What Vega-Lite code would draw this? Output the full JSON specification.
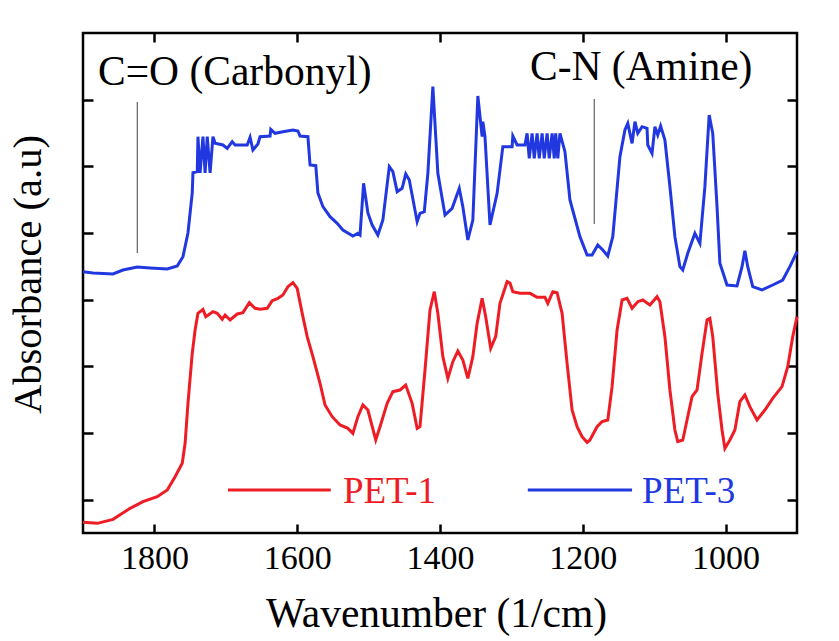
{
  "$schema": "https://vega.github.io/schema/vega-lite/v6.json",
  "width": 714,
  "height": 500,
  "autosize": "none",
  "padding": {"left": 83, "top": 33, "right": 42, "bottom": 108},
  "background": "white",
  "config": {
    "view": {"stroke": "black", "strokeWidth": 2.5},
    "font": "'Liberation Serif', 'Times New Roman', serif",
    "axis": {
      "domain": false,
      "grid": false,
      "tickColor": "black",
      "tickWidth": 2.5,
      "labelFont": "'Liberation Serif', 'Times New Roman', serif",
      "titleFont": "'Liberation Serif', 'Times New Roman', serif",
      "labelColor": "black",
      "titleColor": "black",
      "titleFontWeight": "normal"
    }
  },
  "datasets": {
    "spectra": [
      {"s":"PET-3","wn":1900,"a":3.92},{"s":"PET-3","wn":1886,"a":3.90},{"s":"PET-3","wn":1858,"a":3.885},{"s":"PET-3","wn":1844,"a":3.945},
      {"s":"PET-3","wn":1824,"a":3.99},{"s":"PET-3","wn":1806,"a":3.975},{"s":"PET-3","wn":1782,"a":3.96},{"s":"PET-3","wn":1768,"a":4.005},
      {"s":"PET-3","wn":1760,"a":4.145},{"s":"PET-3","wn":1753,"a":4.50},{"s":"PET-3","wn":1747,"a":5.10},{"s":"PET-3","wn":1746,"a":5.405},
      {"s":"PET-3","wn":1740,"a":5.42},{"s":"PET-3","wn":1739,"a":5.945},{"s":"PET-3","wn":1736,"a":5.40},{"s":"PET-3","wn":1732,"a":5.945},
      {"s":"PET-3","wn":1729,"a":5.40},{"s":"PET-3","wn":1726,"a":5.945},{"s":"PET-3","wn":1722,"a":5.40},{"s":"PET-3","wn":1718,"a":5.945},
      {"s":"PET-3","wn":1715,"a":5.845},{"s":"PET-3","wn":1704,"a":5.82},{"s":"PET-3","wn":1698,"a":5.77},{"s":"PET-3","wn":1691,"a":5.87},
      {"s":"PET-3","wn":1687,"a":5.82},{"s":"PET-3","wn":1670,"a":5.82},{"s":"PET-3","wn":1666,"a":5.935},{"s":"PET-3","wn":1662,"a":5.745},
      {"s":"PET-3","wn":1655,"a":5.835},{"s":"PET-3","wn":1652,"a":5.945},{"s":"PET-3","wn":1638,"a":5.955},{"s":"PET-3","wn":1637,"a":6.055},
      {"s":"PET-3","wn":1631,"a":5.995},{"s":"PET-3","wn":1620,"a":6.02},{"s":"PET-3","wn":1606,"a":6.045},{"s":"PET-3","wn":1599,"a":6.03},
      {"s":"PET-3","wn":1596,"a":5.955},{"s":"PET-3","wn":1585,"a":5.945},{"s":"PET-3","wn":1582,"a":5.52},{"s":"PET-3","wn":1574,"a":5.51},
      {"s":"PET-3","wn":1571,"a":5.10},{"s":"PET-3","wn":1564,"a":4.895},{"s":"PET-3","wn":1554,"a":4.745},{"s":"PET-3","wn":1544,"a":4.645},
      {"s":"PET-3","wn":1536,"a":4.545},{"s":"PET-3","wn":1522,"a":4.455},{"s":"PET-3","wn":1515,"a":4.495},{"s":"PET-3","wn":1512,"a":4.47},
      {"s":"PET-3","wn":1507,"a":5.245},{"s":"PET-3","wn":1501,"a":4.80},{"s":"PET-3","wn":1495,"a":4.62},{"s":"PET-3","wn":1487,"a":4.47},
      {"s":"PET-3","wn":1480,"a":4.695},{"s":"PET-3","wn":1471,"a":5.495},{"s":"PET-3","wn":1466,"a":5.42},{"s":"PET-3","wn":1460,"a":5.12},
      {"s":"PET-3","wn":1453,"a":5.17},{"s":"PET-3","wn":1448,"a":5.385},{"s":"PET-3","wn":1443,"a":5.295},{"s":"PET-3","wn":1432,"a":4.67},
      {"s":"PET-3","wn":1428,"a":4.795},{"s":"PET-3","wn":1422,"a":4.82},{"s":"PET-3","wn":1417,"a":5.395},{"s":"PET-3","wn":1410,"a":6.695},
      {"s":"PET-3","wn":1403,"a":5.395},{"s":"PET-3","wn":1393,"a":4.77},{"s":"PET-3","wn":1383,"a":4.87},{"s":"PET-3","wn":1373,"a":5.17},
      {"s":"PET-3","wn":1368,"a":4.895},{"s":"PET-3","wn":1361,"a":4.395},{"s":"PET-3","wn":1354,"a":4.695},{"s":"PET-3","wn":1347,"a":6.555},
      {"s":"PET-3","wn":1341,"a":5.945},{"s":"PET-3","wn":1340,"a":6.17},{"s":"PET-3","wn":1337,"a":5.945},{"s":"PET-3","wn":1330,"a":4.62},
      {"s":"PET-3","wn":1320,"a":5.095},{"s":"PET-3","wn":1312,"a":5.795},{"s":"PET-3","wn":1299,"a":5.795},{"s":"PET-3","wn":1298,"a":5.955},
      {"s":"PET-3","wn":1292,"a":5.82},{"s":"PET-3","wn":1281,"a":5.82},{"s":"PET-3","wn":1278,"a":5.995},{"s":"PET-3","wn":1275,"a":5.62},
      {"s":"PET-3","wn":1271,"a":5.995},{"s":"PET-3","wn":1268,"a":5.62},{"s":"PET-3","wn":1264,"a":5.995},{"s":"PET-3","wn":1261,"a":5.62},
      {"s":"PET-3","wn":1257,"a":5.995},{"s":"PET-3","wn":1254,"a":5.62},{"s":"PET-3","wn":1250,"a":5.995},{"s":"PET-3","wn":1247,"a":5.62},
      {"s":"PET-3","wn":1243,"a":5.995},{"s":"PET-3","wn":1240,"a":5.62},{"s":"PET-3","wn":1238,"a":5.995},{"s":"PET-3","wn":1235,"a":5.62},
      {"s":"PET-3","wn":1232,"a":5.995},{"s":"PET-3","wn":1225,"a":5.72},{"s":"PET-3","wn":1218,"a":4.995},{"s":"PET-3","wn":1204,"a":4.445},
      {"s":"PET-3","wn":1194,"a":4.17},{"s":"PET-3","wn":1187,"a":4.17},{"s":"PET-3","wn":1179,"a":4.32},{"s":"PET-3","wn":1172,"a":4.245},
      {"s":"PET-3","wn":1165,"a":4.155},{"s":"PET-3","wn":1158,"a":4.445},{"s":"PET-3","wn":1148,"a":5.645},{"s":"PET-3","wn":1141,"a":6.045},
      {"s":"PET-3","wn":1137,"a":6.145},{"s":"PET-3","wn":1131,"a":5.845},{"s":"PET-3","wn":1127,"a":6.17},{"s":"PET-3","wn":1123,"a":5.995},
      {"s":"PET-3","wn":1117,"a":6.095},{"s":"PET-3","wn":1110,"a":6.07},{"s":"PET-3","wn":1109,"a":5.82},{"s":"PET-3","wn":1103,"a":5.695},
      {"s":"PET-3","wn":1099,"a":6.095},{"s":"PET-3","wn":1095,"a":5.97},{"s":"PET-3","wn":1091,"a":6.105},{"s":"PET-3","wn":1085,"a":5.895},
      {"s":"PET-3","wn":1078,"a":5.195},{"s":"PET-3","wn":1071,"a":4.445},{"s":"PET-3","wn":1064,"a":3.995},{"s":"PET-3","wn":1060,"a":3.945},
      {"s":"PET-3","wn":1053,"a":4.195},{"s":"PET-3","wn":1043,"a":4.495},{"s":"PET-3","wn":1036,"a":4.345},{"s":"PET-3","wn":1029,"a":5.195},
      {"s":"PET-3","wn":1023,"a":6.27},{"s":"PET-3","wn":1018,"a":5.995},{"s":"PET-3","wn":1012,"a":4.895},{"s":"PET-3","wn":1008,"a":4.045},
      {"s":"PET-3","wn":998,"a":3.72},{"s":"PET-3","wn":984,"a":3.705},{"s":"PET-3","wn":977,"a":3.995},{"s":"PET-3","wn":973,"a":4.235},
      {"s":"PET-3","wn":969,"a":3.995},{"s":"PET-3","wn":962,"a":3.695},{"s":"PET-3","wn":949,"a":3.645},{"s":"PET-3","wn":934,"a":3.72},
      {"s":"PET-3","wn":920,"a":3.795},{"s":"PET-3","wn":910,"a":3.995},{"s":"PET-3","wn":900,"a":4.22},
      {"s":"PET-1","wn":1900,"a":0.16},{"s":"PET-1","wn":1880,"a":0.145},{"s":"PET-1","wn":1858,"a":0.205},{"s":"PET-1","wn":1834,"a":0.37},
      {"s":"PET-1","wn":1816,"a":0.47},{"s":"PET-1","wn":1796,"a":0.545},{"s":"PET-1","wn":1782,"a":0.645},{"s":"PET-1","wn":1771,"a":0.845},
      {"s":"PET-1","wn":1761,"a":1.045},{"s":"PET-1","wn":1757,"a":1.345},{"s":"PET-1","wn":1753,"a":1.945},{"s":"PET-1","wn":1747,"a":2.695},
      {"s":"PET-1","wn":1743,"a":3.045},{"s":"PET-1","wn":1739,"a":3.295},{"s":"PET-1","wn":1732,"a":3.355},{"s":"PET-1","wn":1728,"a":3.245},
      {"s":"PET-1","wn":1718,"a":3.32},{"s":"PET-1","wn":1712,"a":3.295},{"s":"PET-1","wn":1705,"a":3.205},{"s":"PET-1","wn":1701,"a":3.27},
      {"s":"PET-1","wn":1694,"a":3.195},{"s":"PET-1","wn":1684,"a":3.285},{"s":"PET-1","wn":1676,"a":3.305},{"s":"PET-1","wn":1667,"a":3.455},
      {"s":"PET-1","wn":1659,"a":3.37},{"s":"PET-1","wn":1652,"a":3.355},{"s":"PET-1","wn":1642,"a":3.37},{"s":"PET-1","wn":1635,"a":3.485},
      {"s":"PET-1","wn":1627,"a":3.52},{"s":"PET-1","wn":1620,"a":3.57},{"s":"PET-1","wn":1613,"a":3.695},{"s":"PET-1","wn":1606,"a":3.755},
      {"s":"PET-1","wn":1600,"a":3.67},{"s":"PET-1","wn":1593,"a":3.295},{"s":"PET-1","wn":1586,"a":2.945},{"s":"PET-1","wn":1578,"a":2.645},
      {"s":"PET-1","wn":1568,"a":2.245},{"s":"PET-1","wn":1561,"a":1.92},{"s":"PET-1","wn":1551,"a":1.745},{"s":"PET-1","wn":1540,"a":1.62},
      {"s":"PET-1","wn":1529,"a":1.57},{"s":"PET-1","wn":1522,"a":1.495},{"s":"PET-1","wn":1515,"a":1.745},{"s":"PET-1","wn":1508,"a":1.92},
      {"s":"PET-1","wn":1501,"a":1.845},{"s":"PET-1","wn":1490,"a":1.395},{"s":"PET-1","wn":1484,"a":1.595},{"s":"PET-1","wn":1474,"a":1.945},
      {"s":"PET-1","wn":1466,"a":2.12},{"s":"PET-1","wn":1456,"a":2.145},{"s":"PET-1","wn":1448,"a":2.22},{"s":"PET-1","wn":1439,"a":1.945},
      {"s":"PET-1","wn":1432,"a":1.57},{"s":"PET-1","wn":1428,"a":1.595},{"s":"PET-1","wn":1421,"a":2.445},{"s":"PET-1","wn":1414,"a":3.345},
      {"s":"PET-1","wn":1408,"a":3.62},{"s":"PET-1","wn":1403,"a":3.295},{"s":"PET-1","wn":1396,"a":2.645},{"s":"PET-1","wn":1389,"a":2.32},
      {"s":"PET-1","wn":1382,"a":2.57},{"s":"PET-1","wn":1375,"a":2.73},{"s":"PET-1","wn":1368,"a":2.595},{"s":"PET-1","wn":1361,"a":2.32},
      {"s":"PET-1","wn":1354,"a":2.645},{"s":"PET-1","wn":1348,"a":3.145},{"s":"PET-1","wn":1341,"a":3.52},{"s":"PET-1","wn":1336,"a":3.245},
      {"s":"PET-1","wn":1329,"a":2.77},{"s":"PET-1","wn":1322,"a":2.945},{"s":"PET-1","wn":1316,"a":3.445},{"s":"PET-1","wn":1306,"a":3.77},
      {"s":"PET-1","wn":1302,"a":3.75},{"s":"PET-1","wn":1298,"a":3.62},{"s":"PET-1","wn":1288,"a":3.595},{"s":"PET-1","wn":1274,"a":3.595},
      {"s":"PET-1","wn":1264,"a":3.535},{"s":"PET-1","wn":1253,"a":3.535},{"s":"PET-1","wn":1249,"a":3.445},{"s":"PET-1","wn":1242,"a":3.62},
      {"s":"PET-1","wn":1236,"a":3.605},{"s":"PET-1","wn":1229,"a":3.295},{"s":"PET-1","wn":1222,"a":2.545},{"s":"PET-1","wn":1215,"a":1.845},
      {"s":"PET-1","wn":1208,"a":1.595},{"s":"PET-1","wn":1201,"a":1.445},{"s":"PET-1","wn":1194,"a":1.36},{"s":"PET-1","wn":1190,"a":1.395},
      {"s":"PET-1","wn":1180,"a":1.595},{"s":"PET-1","wn":1173,"a":1.67},{"s":"PET-1","wn":1165,"a":1.695},{"s":"PET-1","wn":1159,"a":2.195},
      {"s":"PET-1","wn":1152,"a":3.045},{"s":"PET-1","wn":1145,"a":3.495},{"s":"PET-1","wn":1138,"a":3.52},{"s":"PET-1","wn":1131,"a":3.37},
      {"s":"PET-1","wn":1123,"a":3.47},{"s":"PET-1","wn":1116,"a":3.495},{"s":"PET-1","wn":1106,"a":3.42},{"s":"PET-1","wn":1096,"a":3.545},
      {"s":"PET-1","wn":1092,"a":3.47},{"s":"PET-1","wn":1085,"a":2.945},{"s":"PET-1","wn":1078,"a":2.145},{"s":"PET-1","wn":1071,"a":1.545},
      {"s":"PET-1","wn":1067,"a":1.37},{"s":"PET-1","wn":1060,"a":1.395},{"s":"PET-1","wn":1054,"a":1.695},{"s":"PET-1","wn":1047,"a":2.045},
      {"s":"PET-1","wn":1040,"a":2.145},{"s":"PET-1","wn":1033,"a":2.695},{"s":"PET-1","wn":1026,"a":3.195},{"s":"PET-1","wn":1022,"a":3.22},
      {"s":"PET-1","wn":1018,"a":2.945},{"s":"PET-1","wn":1011,"a":2.095},{"s":"PET-1","wn":1005,"a":1.545},{"s":"PET-1","wn":1001,"a":1.27},
      {"s":"PET-1","wn":994,"a":1.395},{"s":"PET-1","wn":987,"a":1.545},{"s":"PET-1","wn":980,"a":1.97},{"s":"PET-1","wn":973,"a":2.07},
      {"s":"PET-1","wn":966,"a":1.895},{"s":"PET-1","wn":956,"a":1.695},{"s":"PET-1","wn":945,"a":1.845},{"s":"PET-1","wn":934,"a":2.02},
      {"s":"PET-1","wn":921,"a":2.195},{"s":"PET-1","wn":913,"a":2.495},{"s":"PET-1","wn":906,"a":2.945},{"s":"PET-1","wn":900,"a":3.245}
    ],
    "legend": [
      {"s":"PET-1","x1":1697,"x2":1553,"y":0.645,"tx":1536,"ty":0.45},
      {"s":"PET-3","x1":1277,"x2":1131,"y":0.645,"tx":1117,"ty":0.45}
    ],
    "marks": [
      {"label":"C=O (Carbonyl)","lx":1824,"ly1":6.465,"ly2":4.2,"tx":1879,"ty":6.72},
      {"label":"C-N (Amine)","lx":1184,"ly1":6.51,"ly2":4.635,"tx":1274,"ty":6.795}
    ]
  },
  "layer": [
    {
      "data": {"name": "spectra"},
      "mark": {"type": "line", "strokeWidth": 3, "interpolate": "linear"},
      "encoding": {
        "x": {"field": "wn", "type": "quantitative",
              "scale": {"domain": [900, 1900], "reverse": true, "nice": false, "zero": false},
              "axis": {"orient": "bottom", "values": [1800, 1600, 1400, 1200, 1000], "tickSize": -9, "format": "d",
                       "labelFontSize": 34, "labelPadding": 44, "labelBaseline": "alphabetic", "labelDx": -7,
                       "title": "Wavenumber (1/cm)", "titleFontSize": 41.5, "titleX": 353, "titleY": 93, "titleBaseline": "alphabetic"}},
        "y": {"field": "a", "type": "quantitative",
              "scale": {"domain": [0, 7.5], "nice": false, "zero": false},
              "axis": {"orient": "left", "values": [0.5, 1.5, 2.5, 3.5, 4.5, 5.5, 6.5], "tickSize": -10, "labels": false,
                       "title": "Absorbance (a.u)", "titleFontSize": 40.5, "titleAngle": -90, "titleX": -55, "titleY": 241,
                       "titleBaseline": "middle", "titleAlign": "center"}},
        "color": {"field": "s", "type": "nominal", "scale": {"domain": ["PET-1", "PET-3"], "range": ["#ee1d25", "#2138e0"]}, "legend": null}
      }
    },
    {
      "data": {"name": "marks"},
      "mark": {"type": "rule", "color": "#444444", "strokeWidth": 1},
      "encoding": {
        "x": {"field": "lx", "type": "quantitative",
              "scale": {"domain": [900, 1900], "reverse": true, "nice": false, "zero": false},
              "axis": {"orient": "top", "values": [1800, 1600, 1400, 1200, 1000], "tickSize": -9, "labels": false, "title": null}},
        "y": {"field": "ly1", "type": "quantitative",
              "scale": {"domain": [0, 7.5], "nice": false, "zero": false},
              "axis": {"orient": "right", "values": [0.5, 1.5, 2.5, 3.5, 4.5, 5.5, 6.5], "tickSize": -10, "labels": false, "title": null}},
        "y2": {"field": "ly2"}
      }
    },
    {
      "data": {"name": "marks"},
      "mark": {"type": "text", "align": "left", "baseline": "alphabetic", "fontSize": 41.5, "font": "'Liberation Serif', 'Times New Roman', serif", "color": "black"},
      "encoding": {
        "x": {"field": "tx", "type": "quantitative", "axis": null},
        "y": {"field": "ty", "type": "quantitative", "axis": null},
        "text": {"field": "label"}
      }
    },
    {
      "data": {"name": "legend"},
      "mark": {"type": "rule", "strokeWidth": 3},
      "encoding": {
        "x": {"field": "x1", "type": "quantitative", "axis": null},
        "x2": {"field": "x2"},
        "y": {"field": "y", "type": "quantitative", "axis": null},
        "color": {"field": "s", "type": "nominal", "legend": null}
      }
    },
    {
      "data": {"name": "legend"},
      "mark": {"type": "text", "align": "left", "baseline": "alphabetic", "fontSize": 37, "font": "'Liberation Serif', 'Times New Roman', serif"},
      "encoding": {
        "x": {"field": "tx", "type": "quantitative", "axis": null},
        "y": {"field": "ty", "type": "quantitative", "axis": null},
        "text": {"field": "s"},
        "color": {"field": "s", "type": "nominal", "legend": null}
      }
    }
  ],
  "resolve": {"axis": {"x": "independent", "y": "independent"}}
}
